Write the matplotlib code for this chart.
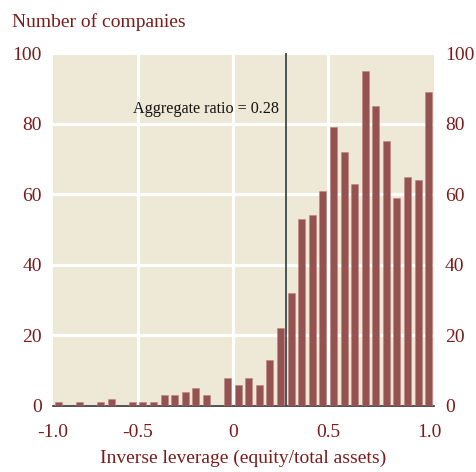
import matplotlib
matplotlib.use("Agg")
import matplotlib.pyplot as plt
import matplotlib.transforms as mtransforms
import numpy as np

# Histogram: 36 bins of width 1/18 spanning -1..1 (inverse leverage)
bin_edges_lo = -1.0
bin_edges_hi = 1.0
counts = [1, 0, 1, 0, 1, 2, 0, 1, 1, 1, 3, 3, 4, 5, 3, 0, 8, 6,
          8, 6, 13, 22, 32, 53, 54, 61, 79, 72, 63, 95, 85, 75, 59, 65, 64, 89]
aggregate_ratio = 0.28
y_ticks = [0, 20, 40, 60, 80, 100]
x_ticks_mid = [-0.5, 0, 0.5]
x_labels_mid = ["-0.5", "0", "0.5"]
x_ticks_end = [-1.0, 1.0]
x_labels_end = ["-1.0", "1.0"]

TEXT = "#7B1C1C"
BAR = "#965151"
BG = "#EEE9D7"
FONT = ["Liberation Serif", "DejaVu Serif"]
plt.rcParams["font.family"] = FONT

fig = plt.figure(figsize=(4.77, 4.72), dpi=100)
ax = fig.add_axes([53 / 477, 66 / 472, 381 / 477, 353 / 472])
ax.set_facecolor(BG)
# scale axis (gridlines, reference line)
ax.set_xlim(-0.947, 1.058)
ax.set_ylim(0, 100)
ax.set_xticks(x_ticks_mid)
ax.set_xticklabels(x_labels_mid)
ax.set_yticks(y_ticks)
ax.grid(True, color="white", linewidth=2.2)
ax.set_axisbelow(True)
for s in ["top", "left", "right"]:
    ax.spines[s].set_visible(False)
ax.spines["bottom"].set_color("#333333")
ax.spines["bottom"].set_linewidth(1.2)
ax.tick_params(axis="both", length=0, labelsize=14, labelcolor=TEXT)
ax.tick_params(axis="x", pad=13)
ax.tick_params(axis="y", pad=8, labelleft=True, labelright=True)
ax.axvline(aggregate_ratio, color="#3C4A4A", linewidth=1.3, zorder=3)
ax.text(aggregate_ratio - 0.04, 84.0, "Aggregate ratio = 0.28", ha="right",
        va="center", fontsize=11.6, color="#111111")
ax.set_xlabel("Inverse leverage (equity/total assets)", fontsize=14,
              color=TEXT, labelpad=6)

# bar axis (bins span -1..1)
axb = ax.twiny()
axb.set_xlim(bin_edges_lo, bin_edges_hi)
nb = len(counts)
width = (bin_edges_hi - bin_edges_lo) / nb
centers = bin_edges_lo + width * (np.arange(nb) + 0.5)
axb.bar(centers, counts, width=width * 0.66, color=BAR,
        edgecolor="#B98585", linewidth=0.4, zorder=2)
for s in axb.spines.values():
    s.set_visible(False)
axb.xaxis.set_ticks_position("bottom")
axb.xaxis.set_label_position("bottom")
axb.set_xticks(x_ticks_end)
axb.set_xticklabels(x_labels_end)
axb.tick_params(axis="x", length=0, labelsize=14, labelcolor=TEXT, pad=13)
# nudge the right end label slightly inward, as in the reference
last_tick = axb.xaxis.get_major_ticks()[-1]
last_tick.label1.set_transform(last_tick.label1.get_transform() +
                               mtransforms.ScaledTranslation(-5 / 100, 0, fig.dpi_scale_trans))

fig.text(12 / 477, 1 - 22 / 472, "Number of companies", fontsize=14,
         color=TEXT, ha="left", va="center")

fig.savefig("out.png", dpi=100)
